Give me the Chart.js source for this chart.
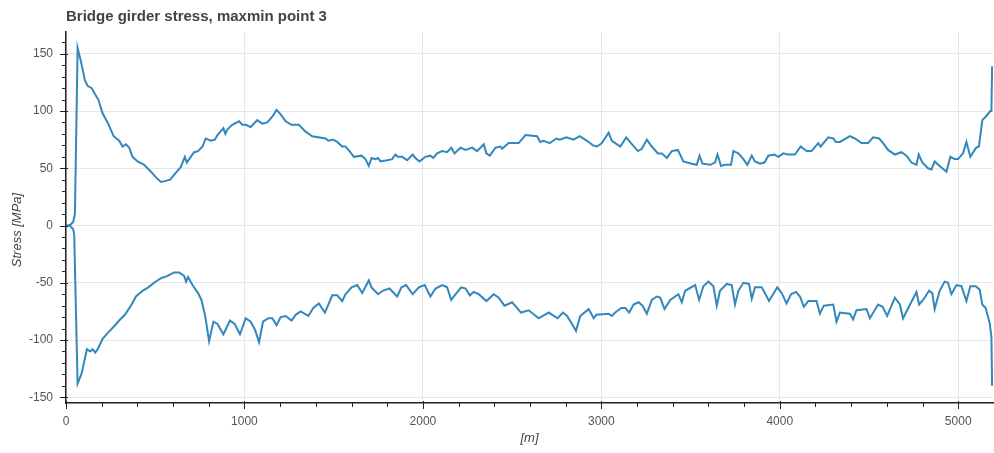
<!DOCTYPE html>
<html>
<head>
<meta charset="utf-8">
<script src="https://cdn.jsdelivr.net/npm/chart.js@4.4.1/dist/chart.umd.min.js"></script>
<style>
  html, body { margin: 0; padding: 0; background: #fff; }
  #wrap { width: 994px; height: 453px; position: relative; }
</style>
</head>
<body>
<div id="wrap"><canvas id="stress"></canvas></div>
<script>
// station along the girder [m] and envelope stress [MPa]
const maxStation = [0, 20, 40, 50, 65, 84, 106, 121, 144, 158, 181, 205, 233, 267, 298, 317, 336, 354, 373, 401,
  438, 476, 504, 532, 559, 584, 615, 643, 666, 677, 699, 718, 740, 765, 783, 811, 834, 849, 882, 893,
  905, 932, 970, 988, 1007, 1035, 1072, 1100, 1128, 1156, 1180, 1203, 1231, 1264, 1305, 1343, 1380, 1455, 1470, 1496,
  1520, 1548, 1566, 1589, 1613, 1656, 1678, 1697, 1712, 1734, 1749, 1762, 1800, 1828, 1846, 1859, 1884, 1912, 1943, 1958,
  1981, 2014, 2042, 2058, 2080, 2108, 2136, 2159, 2177, 2211, 2239, 2276, 2304, 2341, 2356, 2375, 2407, 2435, 2444, 2481,
  2537, 2575, 2640, 2658, 2677, 2711, 2748, 2767, 2804, 2845, 2879, 2920, 2953, 2976, 3003, 3041, 3059, 3078, 3106, 3140,
  3171, 3205, 3227, 3255, 3283, 3317, 3339, 3367, 3395, 3429, 3460, 3507, 3535, 3550, 3567, 3610, 3637, 3651, 3671, 3693,
  3727, 3740, 3768, 3796, 3818, 3843, 3861, 3889, 3914, 3936, 3969, 3992, 4020, 4044, 4085, 4117, 4150, 4178, 4216, 4229,
  4272, 4300, 4314, 4337, 4393, 4421, 4458, 4477, 4495, 4523, 4557, 4579, 4607, 4645, 4682, 4710, 4738, 4766, 4779, 4799,
  4831, 4850, 4868, 4896, 4934, 4956, 4980, 4999, 5027, 5046, 5068, 5101, 5116, 5135, 5154, 5180, 5186, 5190];
const maxStress = [0, 0, 3, 10, 155, 143, 127, 122, 120, 116, 110, 98, 90, 78, 74, 69, 71, 68, 60, 56,
  53, 47, 42, 38, 39, 40, 46, 51, 60, 55, 60, 64, 65, 69, 76, 74, 75, 79, 85, 80,
  84, 88, 91, 88, 88, 86, 92, 89, 90, 95, 101, 97, 91, 88, 88, 82, 78, 76, 74, 75,
  73, 69, 69, 65, 60, 61, 58, 52, 59, 58, 59, 56, 57, 58, 62, 60, 60, 57, 62, 59,
  56, 60, 61, 59, 63, 65, 64, 68, 63, 68, 66, 68, 65, 71, 63, 61, 68, 69, 67, 72,
  72, 79, 78, 73, 74, 72, 76, 75, 77, 75, 78, 74, 70, 69, 72, 81, 74, 72, 69, 77,
  71, 65, 67, 75, 69, 63, 63, 59, 65, 66, 56, 54, 53, 61, 54, 53, 55, 62, 52, 53,
  53, 65, 63, 58, 53, 61, 56, 54, 55, 61, 62, 60, 63, 62, 62, 69, 65, 65, 72, 69,
  77, 76, 73, 73, 78, 76, 72, 72, 72, 77, 76, 72, 66, 62, 64, 61, 55, 53, 62, 55,
  50, 49, 56, 52, 47, 60, 58, 58, 63, 73, 60, 68, 69, 92, 95, 100, 100, 139];

const minStation = [0, 20, 40, 46, 65, 88, 117, 136, 149, 164, 181, 205, 233, 270, 298, 330, 364, 392, 429, 461,
  494, 532, 569, 606, 634, 662, 673, 684, 709, 740, 759, 780, 802, 826, 849, 882, 919, 945, 975, 1007,
  1035, 1059, 1082, 1104, 1134, 1156, 1180, 1203, 1231, 1264, 1287, 1315, 1358, 1386, 1417, 1451, 1492, 1520, 1548, 1566,
  1600, 1632, 1660, 1697, 1712, 1749, 1775, 1813, 1856, 1880, 1906, 1943, 1977, 2010, 2042, 2071, 2108, 2136, 2159, 2188,
  2215, 2239, 2263, 2285, 2313, 2356, 2397, 2425, 2457, 2500, 2550, 2593, 2649, 2705, 2755, 2785, 2808, 2836, 2858, 2882,
  2929, 2957, 2972, 3041, 3059, 3078, 3112, 3134, 3156, 3181, 3209, 3231, 3255, 3283, 3311, 3330, 3354, 3386, 3432, 3451,
  3470, 3526, 3548, 3572, 3600, 3628, 3647, 3665, 3703, 3731, 3749, 3768, 3796, 3828, 3843, 3861, 3899, 3940, 3986, 4011,
  4038, 4063, 4091, 4113, 4135, 4160, 4206, 4225, 4247, 4300, 4318, 4337, 4393, 4411, 4430, 4486, 4505, 4551, 4576, 4602,
  4645, 4673, 4691, 4766, 4781, 4803, 4837, 4855, 4868, 4896, 4924, 4943, 4962, 4990, 5018, 5046, 5068, 5098, 5120, 5135,
  5154, 5176, 5186, 5190];
const minStress = [0, 0, -3, -8, -138, -129, -108, -110, -108, -111, -107, -99, -94, -88, -83, -78, -70, -62, -57, -54,
  -50, -46, -44, -41, -41, -44, -49, -45, -52, -59, -65, -79, -101, -84, -86, -95, -83, -86, -95, -81,
  -84, -91, -102, -84, -81, -81, -87, -80, -79, -83, -78, -75, -79, -72, -68, -76, -61, -61, -66, -60,
  -54, -52, -59, -48, -54, -60, -57, -55, -62, -54, -52, -60, -54, -52, -62, -55, -52, -54, -65, -59,
  -54, -55, -61, -58, -60, -66, -60, -63, -70, -67, -76, -74, -81, -76, -81, -76, -79, -86, -92, -79,
  -73, -81, -78, -77, -79, -76, -72, -72, -76, -69, -67, -70, -77, -65, -62, -63, -73, -65, -60, -67,
  -57, -52, -65, -53, -49, -53, -70, -57, -51, -52, -69, -57, -50, -51, -64, -54, -54, -66, -54, -59,
  -68, -60, -58, -62, -71, -66, -66, -77, -70, -69, -84, -76, -77, -82, -74, -73, -81, -69, -71, -79,
  -63, -69, -81, -58, -69, -65, -57, -59, -73, -57, -49, -50, -60, -52, -53, -66, -53, -53, -56, -69,
  -72, -85, -97, -140];

// axis ranges and labelled ticks
const xRange = [0, 5195];
const yRange = [-155, 169];
const xTickLabels = [0, 1000, 2000, 3000, 4000, 5000];
const yTickLabels = [-150, -100, -50, 0, 50, 100, 150];
const xMinor = 200;
const yMinor = 10;

const lineColor = '#3288bd';
const textColor = '#444';
const tickTextColor = '#555';
const gridColor = '#e6e6e6';
const axisColor = '#222';
const fontFamily = '"Liberation Sans", Arial, Helvetica, sans-serif';

function toPoints(xs, ys) {
  return xs.map((x, i) => ({ x: x, y: ys[i] }));
}

// minor steps between the labelled ticks, labelled ones flagged as major
function tickSet(labels, minor, lo, hi) {
  const out = [];
  const first = Math.ceil(lo / minor) * minor;
  for (let v = first; v <= hi; v += minor) {
    out.push({ value: v, major: labels.includes(v) });
  }
  return out;
}

// bokeh-like axis ticks (long major, short minor), title and y axis label
const axisDecor = {
  id: 'axisDecor',
  afterDraw(chart) {
    const ctx = chart.ctx;
    const xs = chart.scales.x, ys = chart.scales.y;
    ctx.save();
    ctx.strokeStyle = axisColor;
    ctx.lineWidth = 1;
    ctx.beginPath();
    ys.ticks.forEach(t => {
      const py = Math.round(ys.getPixelForValue(t.value)) + 0.5;
      const x0 = ys.right;
      ctx.moveTo(x0 + (t.major ? 2 : 0), py);
      ctx.lineTo(x0 - (t.major ? 6 : 4), py);
    });
    xs.ticks.forEach(t => {
      const px = Math.round(xs.getPixelForValue(t.value)) + 0.5;
      const y0 = xs.top;
      ctx.moveTo(px, y0 - (t.major ? 2 : 0));
      ctx.lineTo(px, y0 + (t.major ? 6 : 4));
    });
    ctx.stroke();

    ctx.fillStyle = textColor;
    ctx.font = 'bold 15px ' + fontFamily;
    ctx.textAlign = 'left';
    ctx.textBaseline = 'middle';
    ctx.fillText('Bridge girder stress, maxmin point 3', chart.chartArea.left, 17);

    ctx.font = 'italic 13px ' + fontFamily;
    ctx.textAlign = 'center';
    ctx.translate(17, 230);
    ctx.rotate(-Math.PI / 2);
    ctx.fillText('Stress [MPa]', 0, 0);
    ctx.restore();
  }
};

new Chart(document.getElementById('stress'), {
  type: 'line',
  data: {
    datasets: [
      {
        label: 'max',
        data: toPoints(maxStation, maxStress),
        borderColor: lineColor,
        borderWidth: 2,
        pointRadius: 0,
        tension: 0,
        fill: false
      },
      {
        label: 'min',
        data: toPoints(minStation, minStress),
        borderColor: lineColor,
        borderWidth: 2,
        pointRadius: 0,
        tension: 0,
        fill: false
      }
    ]
  },
  options: {
    responsive: true,
    maintainAspectRatio: false,
    animation: false,
    devicePixelRatio: 1,
    layout: { padding: { top: 32, right: 1, left: 0, bottom: 0 } },
    plugins: {
      legend: { display: false },
      tooltip: { enabled: false },
      title: { display: false }
    },
    scales: {
      x: {
        type: 'linear',
        min: xRange[0],
        max: xRange[1],
        afterBuildTicks: s => { s.ticks = tickSet(xTickLabels, xMinor, xRange[0], xRange[1]); },
        afterFit: s => { s.height = 50; },
        ticks: {
          autoSkip: false,
          maxRotation: 0,
          padding: 11,
          color: tickTextColor,
          font: { family: fontFamily, size: 12 },
          callback: v => (xTickLabels.includes(v) ? String(v) : '')
        },
        grid: {
          drawTicks: false,
          lineWidth: 1,
          color: c => (c.tick && xTickLabels.includes(c.tick.value) ? gridColor : 'rgba(0,0,0,0)')
        },
        border: { display: true, color: axisColor, width: 1.5 },
        title: {
          display: true,
          text: '[m]',
          color: textColor,
          font: { family: fontFamily, size: 13, style: 'italic' },
          padding: { top: 0, bottom: 7 }
        }
      },
      y: {
        type: 'linear',
        min: yRange[0],
        max: yRange[1],
        afterBuildTicks: s => { s.ticks = tickSet(yTickLabels, yMinor, yRange[0], yRange[1]); },
        afterFit: s => { s.width = 66; },
        ticks: {
          autoSkip: false,
          padding: 13,
          color: tickTextColor,
          font: { family: fontFamily, size: 12 },
          callback: v => (yTickLabels.includes(v) ? String(v) : '')
        },
        grid: {
          drawTicks: false,
          lineWidth: 1,
          color: c => (c.tick && yTickLabels.includes(c.tick.value) ? gridColor : 'rgba(0,0,0,0)')
        },
        border: { display: true, color: axisColor, width: 1.5 }
      }
    }
  },
  plugins: [axisDecor]
});
</script>
</body>
</html>
